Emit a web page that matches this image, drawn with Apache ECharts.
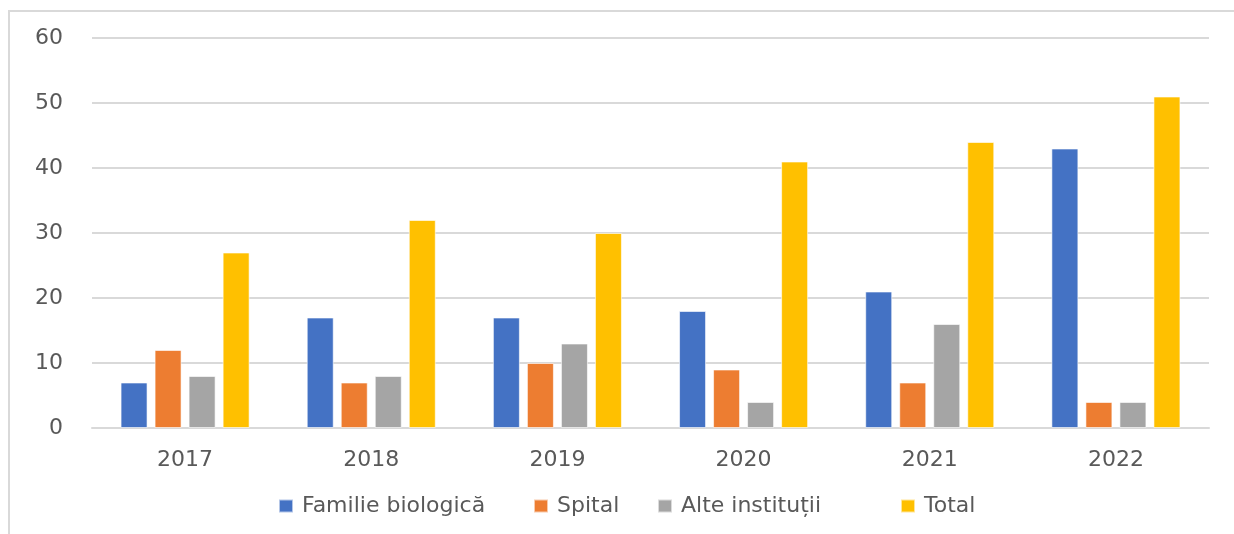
<!DOCTYPE html>
<html><head><meta charset="utf-8">
<script src="https://cdn.jsdelivr.net/npm/echarts@6/dist/echarts.min.js"></script>
<style>html,body{margin:0;padding:0;background:#fff}#c{width:1234px;height:534px}</style>
</head><body><div id="c"></div>
<script>
const categories = ['2017','2018','2019','2020','2021','2022'];
const familieBiologica = [7,17,17,18,21,43];
const spital = [12,7,10,9,7,4];
const alteInstitutii = [8,8,13,4,16,4];
const total = [27,32,30,41,44,51];
const seriesNames = ['Familie biologică','Spital','Alte instituții','Total'];
const colors = ['#4472C4','#ED7D31','#A5A5A5','#FFC000'];
const values = [familieBiologica, spital, alteInstitutii, total];
const legendLeft = [273, 528, 652, 895];

const font = 'DejaVu Sans';
const chart = echarts.init(document.getElementById('c'));
chart.setOption({
  animation: false,
  color: colors,
  graphic: [{type:'rect', shape:{x:9,y:11,width:1260,height:560}, style:{fill:'none', stroke:'#d9d9d9', lineWidth:2}, silent:true}],
  grid: {left: 92, right: 25, top: 38, bottom: 106, containLabel: false},
  legend: seriesNames.map((n, i) => ({
    bottom: 12, left: legendLeft[i], itemWidth: 14, itemHeight: 13,
    icon: 'rect',
    textStyle: {fontFamily: font, fontSize: 22, color: '#595959', padding:[0,0,0,4]},
    data: [n]
  })),
  xAxis: {
    type: 'category', data: categories,
    axisLine: {lineStyle: {color: '#d9d9d9', width: 2}},
    axisTick: {show: false},
    axisLabel: {fontFamily: font, fontSize: 22, color: '#595959', margin: 21}
  },
  yAxis: {
    type: 'value', min: 0, max: 60, interval: 10,
    axisLine: {show: false}, axisTick: {show: false},
    splitLine: {lineStyle: {color: '#d9d9d9', width: 2}},
    axisLabel: {fontFamily: font, fontSize: 22, color: '#595959', margin: 29}
  },
  series: seriesNames.map((n, i) => ({
    name: n, type: 'bar', data: values[i],
    barWidth: 27, barGap: '26%',
    itemStyle: {borderColor: 'rgba(255,255,255,0.6)', borderWidth: 1}
  }))
});
</script></body></html>
